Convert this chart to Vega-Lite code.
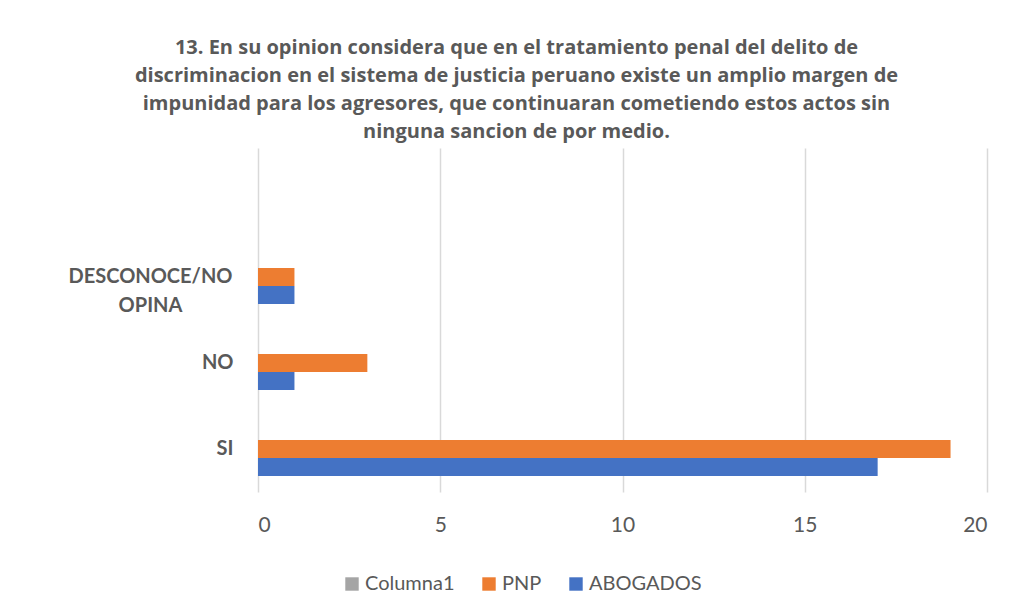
{
  "$schema": "https://vega.github.io/schema/vega-lite/v6.json",
  "autosize": {"type": "none"},
  "width": 729,
  "height": 344,
  "padding": {"left": 258, "top": 148, "right": 24, "bottom": 117},
  "background": "white",
  "config": {"view": {"stroke": null}, "font": "Lato"},
  "title": {
    "text": [
      "13. En su opinion considera que en el tratamiento penal del delito de",
      "discriminacion en el sistema de justicia peruano existe un amplio margen de",
      "impunidad para los agresores, que continuaran cometiendo estos actos sin",
      "ninguna sancion de por medio."
    ],
    "anchor": "middle",
    "frame": "group",
    "dx": -106,
    "offset": 6,
    "font": "Open Sans",
    "fontSize": 20,
    "fontWeight": "bold",
    "color": "#595959",
    "lineHeight": 28
  },
  "data": {
    "values": [
      {"categoria": "DESCONOCE/NO OPINA", "serie": "PNP", "valor": 1},
      {"categoria": "DESCONOCE/NO OPINA", "serie": "ABOGADOS", "valor": 1},
      {"categoria": "NO", "serie": "PNP", "valor": 3},
      {"categoria": "NO", "serie": "ABOGADOS", "valor": 1},
      {"categoria": "SI", "serie": "PNP", "valor": 19},
      {"categoria": "SI", "serie": "ABOGADOS", "valor": 17}
    ]
  },
  "mark": {"type": "bar"},
  "encoding": {
    "y": {
      "field": "categoria",
      "type": "nominal",
      "sort": null,
      "scale": {"domain": [" ", "DESCONOCE/NO OPINA", "NO", "SI"], "paddingInner": 0.372, "paddingOuter": 0.186},
      "axis": {
        "title": null,
        "ticks": false,
        "domain": false,
        "labelFont": "Lato",
        "labelFontSize": 20,
        "labelFontWeight": "bold",
        "labelColor": "#595959",
        "labelLineHeight": 29,
        "labelExpr": "datum.value == 'DESCONOCE/NO OPINA' ? ['DESCONOCE/NO', 'OPINA'] : datum.value",
        "labelAlign": {"condition": {"test": "datum.value == 'DESCONOCE/NO OPINA'", "value": "center"}, "value": "right"},
        "labelPadding": {"condition": {"test": "datum.value == 'DESCONOCE/NO OPINA'", "value": 108}, "value": 25}
      }
    },
    "yOffset": {
      "field": "serie",
      "type": "nominal",
      "scale": {"domain": ["Columna1", "PNP", "ABOGADOS"], "paddingInner": 0, "paddingOuter": 0}
    },
    "x": {
      "field": "valor",
      "type": "quantitative",
      "scale": {"domain": [0, 20], "nice": false},
      "axis": {
        "title": null,
        "values": [0, 5, 10, 15, 20],
        "ticks": false,
        "domain": false,
        "grid": true,
        "gridColor": "#d9d9d9",
        "gridWidth": 1.5,
        "labelFont": "Lato",
        "labelFontSize": 21,
        "labelColor": "#595959",
        "labelPadding": 22
      }
    },
    "color": {
      "field": "serie",
      "type": "nominal",
      "scale": {"domain": ["Columna1", "PNP", "ABOGADOS"], "range": ["#A5A5A5", "#ED7D31", "#4472C4"]},
      "legend": {
        "title": null,
        "orient": "none",
        "direction": "horizontal",
        "legendX": 84,
        "legendY": 426,
        "symbolType": "square",
        "symbolSize": 180,
        "symbolStrokeWidth": 0,
        "symbolOpacity": 1,
        "labelFont": "Lato",
        "labelFontSize": 20,
        "labelColor": "#595959",
        "columnPadding": 24,
        "labelOffset": 3
      }
    }
  }
}
